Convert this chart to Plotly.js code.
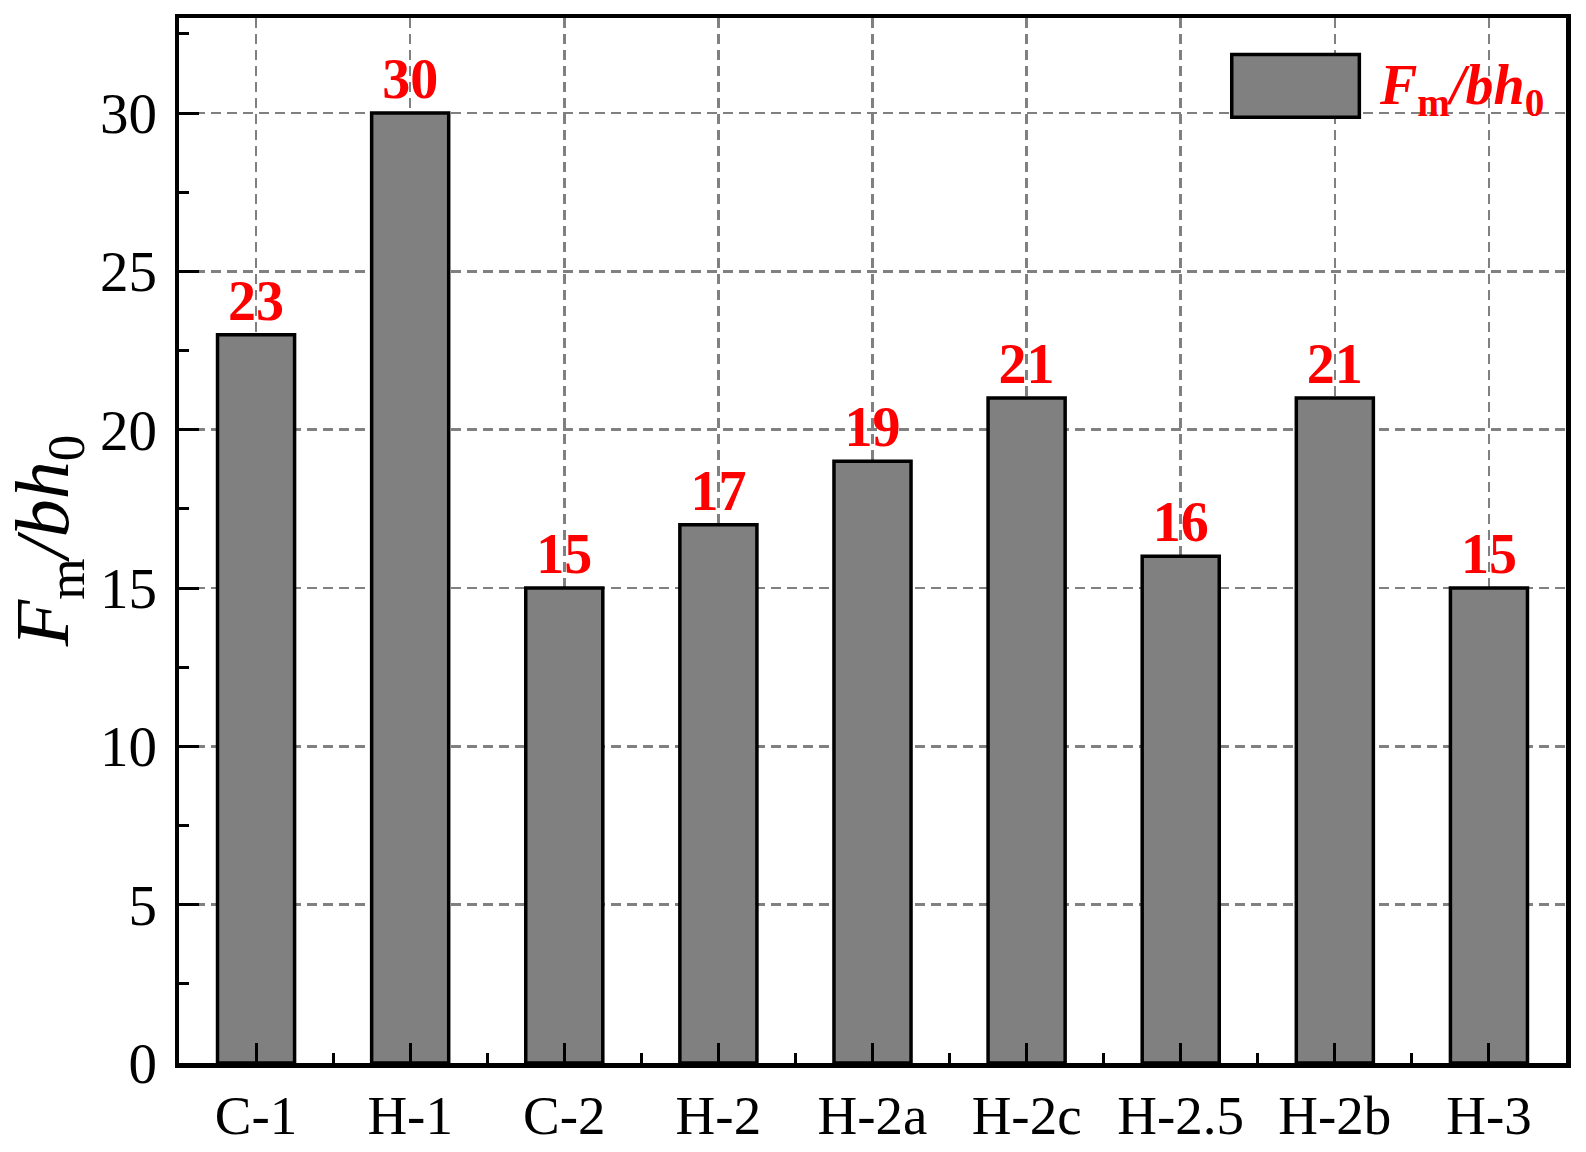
<!DOCTYPE html>
<html>
<head>
<meta charset="utf-8">
<script src="https://cdn.plot.ly/plotly-3.0.1.min.js"></script>
<style>
  body { margin: 0; background: #fff; }
  #chart { width: 1586px; height: 1152px; }
</style>
</head>
<body>
<div id="chart"></div>
<script>
// specimens and their peak load ratio
let SPECIMENS = ["C-1", "H-1", "C-2", "H-2", "H-2a", "H-2c", "H-2.5", "H-2b", "H-3"]
let FM_BH0 = [23, 30, 15, 17, 19, 21, 16, 21, 15]
let Y_TICKS = [0, 5, 10, 15, 20, 25, 30]

let FONT = "Liberation Serif, Times New Roman, serif"
let SERIES_NAME = "<i>F</i><sub>m</sub><i>/bh</i><sub>0</sub>"

function show_chart() {
  let positions = SPECIMENS.map((s, i) => i)

  let bars = {
    x : positions,
    y : FM_BH0,
    type : "bar",
    width : 0.5,
    marker : { color : "#808080", line : { color : "#000", width : 3.5 } },
    text : FM_BH0.map(String),
    textposition : "outside",
    constraintext : "none",
    cliponaxis : false,
    textfont : { family : FONT, size : 56, color : "#ff0000", weight : "bold" },
    hoverinfo : "skip",
    showlegend : false
  }

  let grid = { showgrid : true, gridcolor : "#808080", gridwidth : 2.5, griddash : "10px,6px" }

  let layout = {
    width : 1586,
    height : 1152,
    margin : { l : 179, r : 20, t : 18, b : 89 },
    paper_bgcolor : "#fff",
    plot_bgcolor : "#fff",
    font : { family : FONT, color : "#000", size : 56 },
    xaxis : Object.assign({
      range : [-0.5, 8.5],
      tickvals : positions,
      ticktext : SPECIMENS,
      ticks : "inside",
      ticklen : 20,
      tickwidth : 3,
      tickcolor : "#000",
      minor : { tick0 : 0.5, dtick : 1, ticks : "inside", ticklen : 10, tickwidth : 3, tickcolor : "#000", showgrid : false },
      showline : true,
      linecolor : "#000",
      linewidth : 4.5,
      mirror : true,
      zeroline : false,
      ticklabelstandoff : 0,
      tickfont : { family : FONT, size : 55 }
    }, grid),
    yaxis : Object.assign({
      range : [0, 33],
      tickvals : Y_TICKS,
      ticks : "inside",
      ticklen : 20,
      tickwidth : 3,
      tickcolor : "#000",
      minor : { tick0 : 2.5, dtick : 5, ticks : "inside", ticklen : 10, tickwidth : 3, tickcolor : "#000", showgrid : false },
      showline : true,
      linecolor : "#000",
      linewidth : 4.5,
      mirror : true,
      zeroline : false,
      ticklabelstandoff : 6,
      tickfont : { family : FONT, size : 57 },
      title : { text : SERIES_NAME, font : { family : FONT, size : 76 }, standoff : 10 }
    }, grid),
    shapes : [
      {
        type : "rect", xref : "paper", yref : "paper",
        x0 : 0.759, x1 : 0.851, y0 : 0.905, y1 : 0.965,
        fillcolor : "#808080", line : { color : "#000", width : 3.5 }
      }
    ],
    annotations : [
      {
        xref : "paper", yref : "paper", x : 0.864, y : 0.932,
        xanchor : "left", yanchor : "middle", showarrow : false,
        text : "<b>" + SERIES_NAME + "</b>",
        font : { family : FONT, size : 56, color : "#ff0000" }
      }
    ]
  }

  Plotly.newPlot("chart", [bars], layout, { staticPlot : true })
}

show_chart()
</script>
</body>
</html>
